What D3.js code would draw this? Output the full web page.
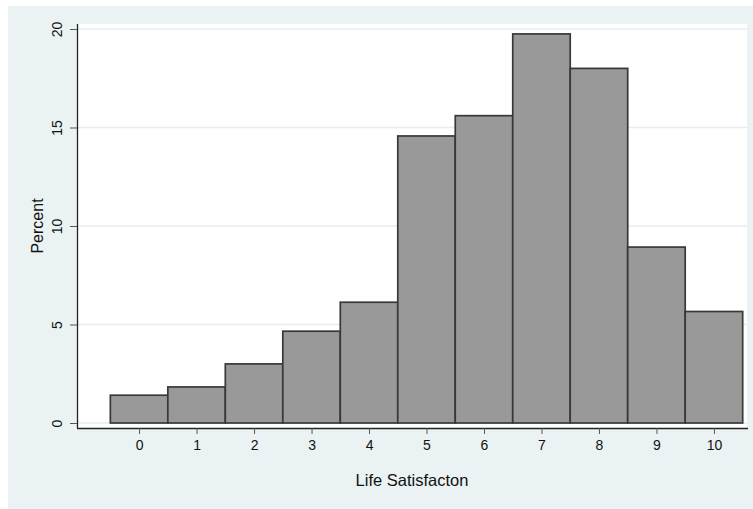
<!DOCTYPE html>
<html>
<head>
<meta charset="utf-8">
<script src="https://cdn.jsdelivr.net/npm/d3@7"></script>
<style>
  body { margin: 0; background: #fff; }
  svg { display: block; }
  text { font-family: "Liberation Sans", Arial, sans-serif; fill: #111; }
</style>
</head>
<body>
<div id="chart"></div>
<script>
// Life satisfaction histogram (percent per score)
const scores = [0, 1, 2, 3, 4, 5, 6, 7, 8, 9, 10]
const percents = [1.41, 1.83, 3.0, 4.66, 6.13, 14.57, 15.6, 19.75, 18.0, 8.93, 5.66]
const yTicks = [0, 5, 10, 15, 20]

const width = 753
const height = 509

const svg = d3.select("#chart")
    .append("svg")
    .attr("width", width)
    .attr("height", height)

// Graph region background
svg.append("rect")
    .attr("x", 8).attr("y", 6)
    .attr("width", width - 8).attr("height", height - 6)
    .attr("fill", "#eaf2f3")

// Plot region
const plotLeft = 77, plotRight = 747, plotTop = 24, plotBottom = 428

svg.append("rect")
    .attr("x", plotLeft).attr("y", plotTop)
    .attr("width", plotRight - plotLeft).attr("height", plotBottom - plotTop)
    .attr("fill", "#fff")

const xScale = d3.scaleLinear()
    .domain([-1.08, 10.575])
    .range([plotLeft, plotRight])

const yScale = d3.scaleLinear()
    .domain([0, 20])
    .range([423, 29])

// Gridlines
svg.append("g")
    .selectAll("line")
    .data(yTicks)
    .enter()
    .append("line")
    .attr("x1", plotLeft)
    .attr("x2", plotRight)
    .attr("y1", d => yScale(d))
    .attr("y2", d => yScale(d))
    .attr("stroke", "#e4eef0")
    .attr("stroke-width", 1.3)

// Bars
svg.append("g")
    .selectAll("rect")
    .data(scores)
    .enter()
    .append("rect")
    .attr("x", d => xScale(d - 0.5))
    .attr("y", (d, i) => yScale(percents[i]))
    .attr("width", d => xScale(d + 0.5) - xScale(d - 0.5))
    .attr("height", (d, i) => yScale(0) - yScale(percents[i]))
    .attr("fill", "#999999")
    .attr("stroke", "#383838")
    .attr("stroke-width", 1.7)

// X axis
const xAxis = d3.axisBottom(xScale)
    .tickValues(scores)
    .tickSize(6)
    .tickPadding(6)
    .tickFormat(d3.format("d"))

const gx = svg.append("g")
    .attr("transform", `translate(0, ${plotBottom})`)
    .call(xAxis)
gx.select(".domain")
    .attr("d", `M${plotLeft},0.5H${plotRight + 1}`)
    .attr("stroke", "#222")
    .attr("stroke-width", 1.3)
gx.selectAll(".tick line").attr("stroke", "#555")
gx.selectAll(".tick text")
    .style("font-size", "14px")
    .attr("fill", "#111")

// Y axis
const yAxis = d3.axisLeft(yScale)
    .tickValues(yTicks)
    .tickSize(7)
    .tickFormat(d3.format("d"))

const gy = svg.append("g")
    .attr("transform", `translate(${plotLeft}, 0)`)
    .call(yAxis)
gy.select(".domain")
    .attr("d", `M0.5,${plotTop}V${plotBottom}`)
    .attr("stroke", "#222")
    .attr("stroke-width", 1.3)
gy.selectAll(".tick line").attr("stroke", "#555")
gy.selectAll(".tick text")
    .attr("x", 0)
    .attr("dy", null)
    .attr("transform", "translate(-20, 0) rotate(-90)")
    .attr("text-anchor", "middle")
    .attr("dominant-baseline", "central")
    .style("font-size", "14px")
    .attr("fill", "#111")

// Axis titles
svg.append("text")
    .attr("x", (plotLeft + plotRight) / 2)
    .attr("y", 486)
    .attr("text-anchor", "middle")
    .style("font-size", "16.5px")
    .text("Life Satisfacton")

svg.append("text")
    .attr("transform", `translate(43, ${yScale(10)}) rotate(-90)`)
    .attr("text-anchor", "middle")
    .style("font-size", "16px")
    .text("Percent")
</script>
</body>
</html>
